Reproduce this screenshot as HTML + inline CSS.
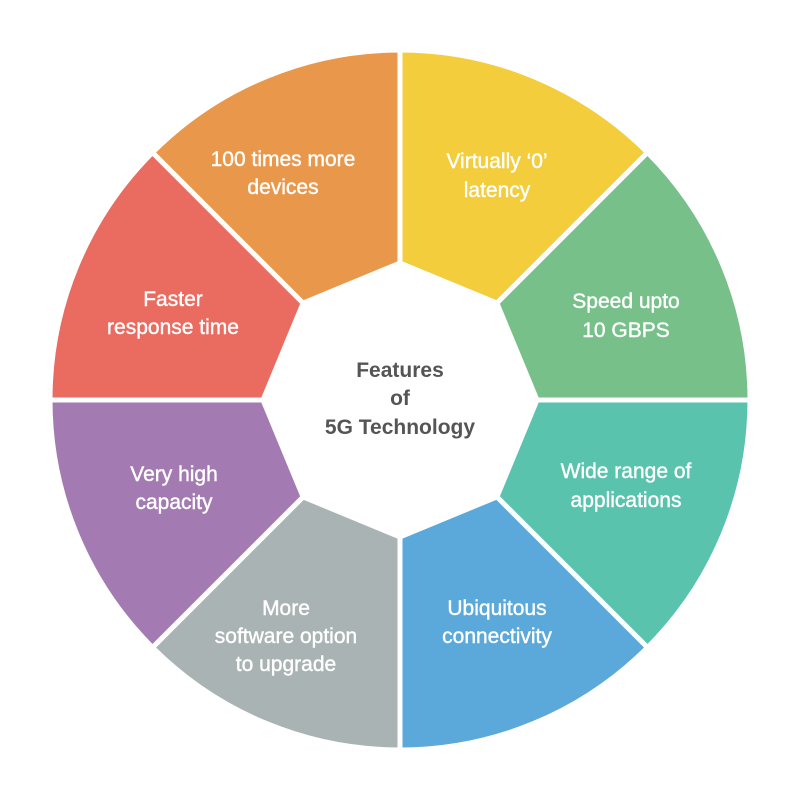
<!DOCTYPE html>
<html><head><meta charset="utf-8"><style>
html,body{margin:0;padding:0;background:#fff;width:800px;height:800px;overflow:hidden}
text{font-family:"Liberation Sans",sans-serif;font-size:21px;fill:#fff;text-anchor:middle;stroke:#fff;stroke-width:0.4px}
</style></head><body>
<svg width="800" height="800" viewBox="0 0 800 800">
<g stroke="#fff" stroke-width="5" stroke-linejoin="miter">
<path d="M400,50 A350,350 0 0 1 647.5,152.5 L496.9,303.1 L400,263 Z" fill="#F3CD3C"/>
<path d="M647.5,152.5 A350,350 0 0 1 750,400 L537,400 L496.9,303.1 Z" fill="#77C08A"/>
<path d="M750,400 A350,350 0 0 1 647.5,647.5 L496.9,496.9 L537,400 Z" fill="#5AC3AE"/>
<path d="M647.5,647.5 A350,350 0 0 1 400,750 L400,537 L496.9,496.9 Z" fill="#5BA8DA"/>
<path d="M400,750 A350,350 0 0 1 152.5,647.5 L303.1,496.9 L400,537 Z" fill="#A9B3B3"/>
<path d="M152.5,647.5 A350,350 0 0 1 50,400 L263,400 L303.1,496.9 Z" fill="#A37BB2"/>
<path d="M50,400 A350,350 0 0 1 152.5,152.5 L303.1,303.1 L263,400 Z" fill="#EA6B60"/>
<path d="M152.5,152.5 A350,350 0 0 1 400,50 L400,263 L303.1,303.1 Z" fill="#E9984B"/>
</g>
<text x="283" y="166">100 times more</text>
<text x="283" y="194">devices</text>
<text x="497" y="168">Virtually ‘0’</text>
<text x="497" y="197">latency</text>
<text x="626" y="308">Speed upto</text>
<text x="626" y="337">10 GBPS</text>
<text x="173" y="306">Faster</text>
<text x="173" y="334">response time</text>
<text x="626" y="478">Wide range of</text>
<text x="626" y="507">applications</text>
<text x="174" y="481">Very high</text>
<text x="174" y="509">capacity</text>
<text x="497" y="615">Ubiquitous</text>
<text x="497" y="643">connectivity</text>
<text x="286" y="615">More</text>
<text x="286" y="643">software option</text>
<text x="286" y="671">to upgrade</text>
<text x="400" y="377" style="fill:#555;stroke:none;font-weight:bold">Features</text>
<text x="400" y="405" style="fill:#555;stroke:none;font-weight:bold">of</text>
<text x="400" y="434" style="fill:#555;stroke:none;font-weight:bold">5G Technology</text>
</svg>
</body></html>
